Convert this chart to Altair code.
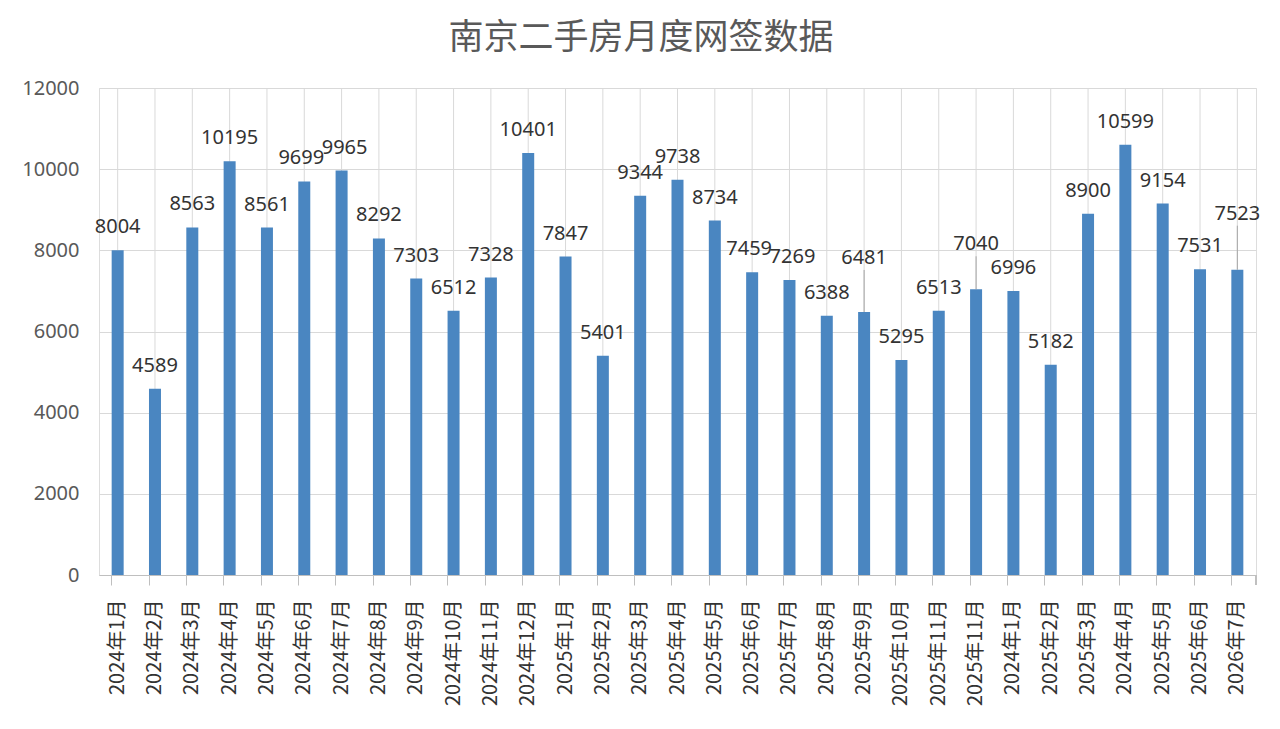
import json
import altair as alt
import pandas as pd

title = "南京二手房月度网签数据"
months = [
    "2024年1月", "2024年2月", "2024年3月", "2024年4月", "2024年5月", "2024年6月",
    "2024年7月", "2024年8月", "2024年9月", "2024年10月", "2024年11月", "2024年12月",
    "2025年1月", "2025年2月", "2025年3月", "2025年4月", "2025年5月", "2025年6月",
    "2025年7月", "2025年8月", "2025年9月", "2025年10月", "2025年11月", "2025年11月",
    "2024年1月", "2025年2月", "2025年3月", "2024年4月", "2025年5月", "2025年6月",
    "2026年7月",
]
values = [
    8004, 4589, 8563, 10195, 8561, 9699, 9965, 8292, 7303, 6512, 7328, 10401,
    7847, 5401, 9344, 9738, 8734, 7459, 7269, 6388, 6481, 5295, 6513, 7040,
    6996, 5182, 8900, 10599, 9154, 7531, 7523,
]
y_ticks = [0, 2000, 4000, 6000, 8000, 10000, 12000]

# layout: extra lift (px) for labels on a leader line, small sideways nudges
W, H = 1157, 487
YMAX = 12000
label_lift = {20: 31, 23: 22, 30: 33}
label_nudge = {5: -3, 6: 3, 17: -3, 18: 3}

df = pd.DataFrame({"idx": list(range(len(values))), "month": months, "value": values})
df["lift"] = [label_lift.get(i, 0) for i in df["idx"]]
df["nudge"] = [label_nudge.get(i, 0) for i in df["idx"]]
df["lead_top"] = df["value"] + (df["lift"] + 11) * YMAX / H

CJK = "Noto Sans CJK SC"
NUM = "Noto Sans"
label_expr = json.dumps(months, ensure_ascii=False) + "[datum.value]"

x_axis = alt.Axis(
    title=None, labelAngle=-90, labelExpr=label_expr, bandPosition=0,
    grid=False, ticks=True, tickSize=10, tickColor="#bfbfbf",
    domainColor="#bfbfbf", labelFont=CJK, labelFontSize=20,
    labelColor="#333333", labelPadding=14,
)
xscale = alt.Scale(paddingInner=0.69, paddingOuter=0.345)
x = alt.X("idx:O", axis=x_axis, scale=xscale)
yscale = alt.Scale(domain=[0, YMAX])

vgrid = alt.Chart(df).mark_rule(color="#d9d9d9", strokeWidth=1).encode(
    x=x, y=alt.value(0), y2=alt.value(H),
)

end_tick = alt.Chart(df).mark_rule(color="#bfbfbf", strokeWidth=1).encode(
    x=alt.value(W), y=alt.value(H), y2=alt.value(H + 10),
)

bars = alt.Chart(df).mark_bar(color="#4a86c1", size=12).encode(
    x=x,
    y=alt.Y("value:Q", scale=yscale,
            axis=alt.Axis(title=None, values=y_ticks, format="d", grid=True,
                          gridColor="#d9d9d9", domain=False, ticks=False,
                          labelFont=NUM, labelFontSize=20, labelColor="#595959",
                          labelPadding=20)),
)

leaders = alt.Chart(df).transform_filter("datum.lift > 0").mark_rule(
    color="#a6a6a6", strokeWidth=1
).encode(x=x, y=alt.Y("value:Q", scale=yscale), y2="lead_top:Q")


def text_layer(nudge):
    return alt.Chart(df).transform_filter(f"datum.nudge == {nudge}").mark_text(
        baseline="bottom", font=NUM, fontSize=20, color="#333333", dy=-2, dx=nudge
    ).encode(x=x, y=alt.Y("lead_top:Q", scale=yscale), text="value:Q")


texts = [text_layer(n) for n in sorted(set(df["nudge"]))]

chart = alt.layer(vgrid, end_tick, bars, leaders, *texts).properties(
    width=W, height=H,
    title=alt.TitleParams(title, font=CJK, fontSize=35, fontWeight="normal",
                          color="#595959", offset=22, anchor="middle",
                          frame="bounds"),
    padding={"left": 13, "top": 13, "right": 5, "bottom": 5},
).configure_view(stroke=None).configure(background="white")

chart.save("out.html", embed_options={"renderer": "svg", "actions": False})
